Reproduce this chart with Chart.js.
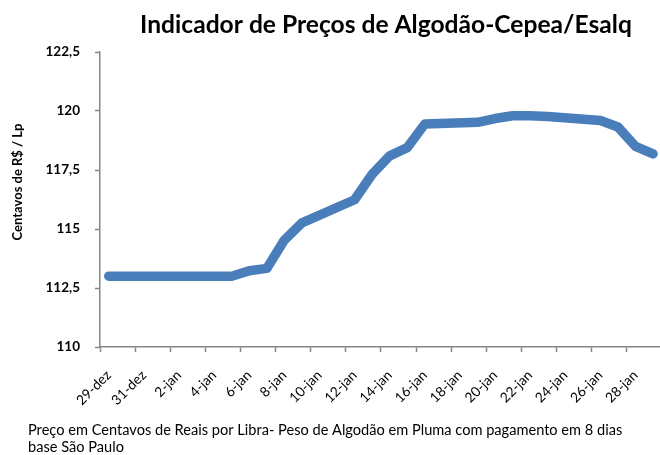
<!DOCTYPE html>
<html>
<head>
<meta charset="utf-8">
<script src="https://cdn.jsdelivr.net/npm/chart.js@4"></script>
<style>
html,body{margin:0;padding:0;background:#fff;overflow:hidden;width:660px;height:455px;}
#wrap{position:absolute;left:0;top:0;width:680px;height:455px;}
</style>
</head>
<body>
<div id="wrap"><canvas id="c" width="680" height="455"></canvas></div>
<script>
// Calendar days on the date axis (29-dez to 29-jan)
const days = ['29-dez','30-dez','31-dez','1-jan','2-jan','3-jan','4-jan','5-jan','6-jan','7-jan','8-jan','9-jan','10-jan','11-jan','12-jan','13-jan','14-jan','15-jan','16-jan','17-jan','18-jan','19-jan','20-jan','21-jan','22-jan','23-jan','24-jan','25-jan','26-jan','27-jan','28-jan','29-jan'];
// Indicator values (null = no quotation that day)
const prices = [113.0,113.0,113.0,null,113.0,null,null,113.0,113.23,113.33,114.53,115.26,null,null,116.24,117.32,118.1,118.45,119.45,null,null,119.52,119.68,119.8,119.8,119.77,null,null,119.6,119.32,118.5,118.18];
const yTicks = [110,112.5,115,117.5,120,122.5];
const titleText = 'Indicador de Preços de Algodão-Cepea/Esalq';
const yTitleText = 'Centavos de R$ / Lp';
const noteLines = ['Preço em Centavos de Reais por Libra- Peso de Algodão em Pluma com pagamento em 8 dias','base São Paulo'];

const axisGray = '#868686';

const textPlugin = {
  id: 'texts',
  afterDraw(chart) {
    const ctx = chart.ctx;
    ctx.save();
    ctx.fillStyle = '#000';
    ctx.font = 'bold 24.6px Lato';
    ctx.textAlign = 'center';
    ctx.textBaseline = 'alphabetic';
    ctx.fillText(titleText, 386, 33);
    ctx.save();
    ctx.translate(22, 182);
    ctx.rotate(-Math.PI/2);
    ctx.font = 'bold 13px Lato';
    ctx.textAlign = 'center';
    ctx.fillText(yTitleText, 0, 0);
    ctx.restore();
    ctx.font = '14.6px Lato';
    ctx.textAlign = 'left';
    ctx.fillText(noteLines[0], 28, 435);
    ctx.fillText(noteLines[1], 28, 452);
    ctx.restore();
  }
};

new Chart(document.getElementById('c'), {
  type: 'line',
  data: {
    labels: days,
    datasets: [{
      data: prices,
      borderColor: '#4a7ebb',
      borderWidth: 9.5,
      borderCapStyle: 'round',
      borderJoinStyle: 'round',
      pointRadius: 0,
      pointHoverRadius: 0,
      tension: 0,
      spanGaps: true,
      fill: false
    }]
  },
  options: {
    responsive: false,
    devicePixelRatio: 1,
    animation: false,
    events: [],
    layout: { padding: { top: 52, left: 0, right: 15.2, bottom: 48 } },
    plugins: { legend: { display: false }, title: { display: false }, tooltip: { enabled: false } },
    scales: {
      x: {
        type: 'category',
        offset: true,
        grid: {
          offset: true,
          drawOnChartArea: false,
          drawTicks: true,
          tickLength: 5,
          tickWidth: 1.5,
          tickColor: (c) => (c.index % 2 === 0 ? axisGray : 'rgba(0,0,0,0)')
        },
        border: { color: axisGray, width: 1.5 },
        ticks: {
          autoSkip: false,
          maxRotation: 45,
          minRotation: 45,
          padding: 15,
          color: '#000',
          font: { family: 'Lato', size: 13.8 },
          callback: function(v, i) { return i % 2 === 0 ? days[i] : ''; }
        },
        afterFit(s) { s.height = 60; }
      },
      y: {
        min: 110,
        max: 122.5,
        afterBuildTicks(s) { s.ticks = yTicks.map(v => ({ value: v })); },
        grid: {
          drawOnChartArea: false,
          drawTicks: true,
          tickLength: 5,
          tickWidth: 1.5,
          tickColor: axisGray
        },
        border: { color: axisGray, width: 1.5 },
        ticks: {
          padding: 15,
          color: '#000',
          font: { family: 'Lato', size: 13.5, weight: 'bold' },
          callback: (v) => (Number.isInteger(v) ? String(v) : v.toFixed(1).replace('.', ','))
        },
        afterFit(s) { s.width = 100; }
      }
    }
  },
  plugins: [textPlugin]
});
</script>
</body>
</html>
